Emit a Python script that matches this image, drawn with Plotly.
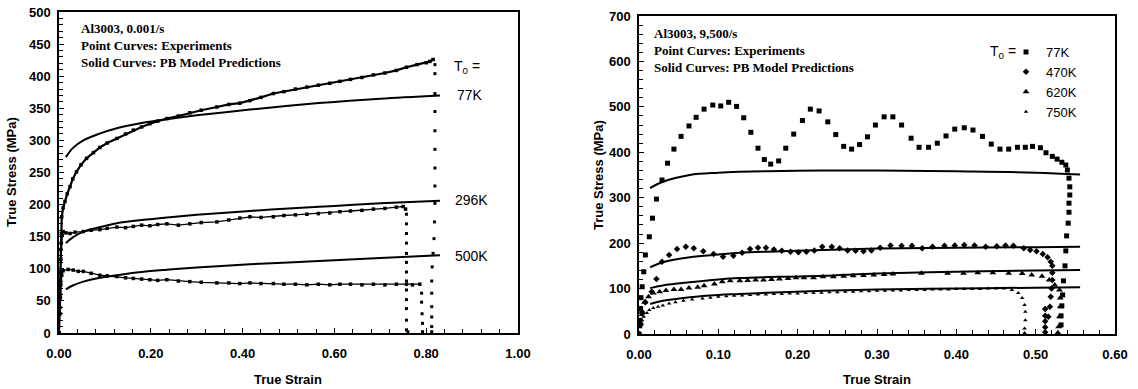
import plotly.graph_objects as go

# ---------------- Left panel: Al3003, 0.001/s ----------------
L_model_strain = [0.015, 0.03, 0.053, 0.09, 0.126, 0.18, 0.235, 0.3, 0.416, 0.5, 0.6, 0.7, 0.83]
L_model_77K = [274, 288, 300, 311, 319, 327, 333, 339, 348, 354, 360, 365, 370]
L_model_296K = [140, 149, 158, 165, 171, 176, 180, 184, 190, 194, 198, 202, 206]
L_model_500K = [68, 74, 80, 86, 90, 95, 98.5, 102, 107, 110, 113.5, 117, 121]

L_exp77_strain = [0.0, 0.001, 0.002, 0.003, 0.004, 0.005, 0.006, 0.009, 0.013, 0.018, 0.024, 0.03, 0.038,
                  0.048, 0.06, 0.075, 0.089, 0.105, 0.126, 0.145, 0.162, 0.18, 0.198, 0.215, 0.235, 0.26,
                  0.285, 0.31, 0.344, 0.37, 0.394, 0.416, 0.44, 0.467, 0.49, 0.515, 0.54, 0.565, 0.59,
                  0.612, 0.635, 0.66, 0.685, 0.71, 0.735, 0.757, 0.78, 0.80, 0.808, 0.815]
L_exp77_stress = [0, 30, 60, 95, 130, 155, 181, 195, 205, 217, 228, 240, 251,
                  262, 272, 281, 289, 296, 303, 310, 316, 321, 326, 330, 334, 338,
                  343, 347, 352, 356, 358, 362, 367, 373, 376, 380, 383, 386, 389,
                  392, 395, 398, 402, 405, 409, 414, 418, 421, 423, 426]
L_tail77_strain = [0.819, 0.819, 0.819, 0.819, 0.819, 0.819, 0.819, 0.819, 0.819, 0.818, 0.817, 0.815,
                   0.813, 0.812, 0.812, 0.812, 0.812, 0.812, 0.812]
L_tail77_stress = [418, 404, 373, 345, 315, 286, 257, 229, 202, 173, 147, 124, 103, 81, 62, 41, 25, 10, 2]

L_exp296_strain = [0.0, 0.002, 0.003, 0.004, 0.005, 0.007, 0.009, 0.015, 0.024, 0.035, 0.053, 0.07, 0.089,
                   0.105, 0.126, 0.145, 0.162, 0.18, 0.198, 0.215, 0.235, 0.26, 0.285, 0.31, 0.344, 0.37,
                   0.394, 0.416, 0.44, 0.467, 0.49, 0.515, 0.54, 0.565, 0.59, 0.612, 0.635, 0.66, 0.685,
                   0.71, 0.735, 0.75, 0.755]
L_exp296_stress = [0, 40, 80, 115, 140, 152, 158, 156, 155, 157, 158, 160, 161,
                   163, 165, 164, 166, 168, 167, 169, 170, 168, 170, 172, 173, 176,
                   179, 181, 180, 181, 183, 184, 185, 186, 187, 189, 190, 191, 193,
                   194, 196, 197, 193]
L_tail296_strain = [0.757, 0.757, 0.757, 0.757, 0.757, 0.757, 0.757, 0.757, 0.757, 0.757, 0.757, 0.757, 0.757, 0.76]
L_tail296_stress = [185, 170, 155, 140, 124, 110, 95, 81, 67, 52, 38, 20, 5, 2]

L_exp500_strain = [0.0, 0.002, 0.003, 0.004, 0.006, 0.009, 0.02, 0.031, 0.042, 0.053, 0.07, 0.089, 0.105,
                   0.126, 0.145, 0.162, 0.18, 0.198, 0.215, 0.235, 0.26, 0.285, 0.31, 0.344, 0.37, 0.394,
                   0.416, 0.44, 0.467, 0.49, 0.515, 0.54, 0.565, 0.59, 0.612, 0.635, 0.66, 0.685, 0.71,
                   0.735, 0.757, 0.77, 0.786]
L_exp500_stress = [0, 30, 55, 75, 90, 97, 99, 98, 96, 96, 93, 90, 89,
                   88, 86, 85, 84, 83, 82, 83, 81, 80, 79, 78, 78, 77,
                   78, 77, 77, 76, 76, 75, 76, 75, 76, 76, 75, 76, 75,
                   76, 76, 75, 76]
L_tail500_strain = [0.79, 0.79, 0.791, 0.792, 0.792]
L_tail500_stress = [62, 48, 30, 15, 2]

# ---------------- Right panel: Al3003, 9,500/s ----------------
R_model_strain = [0.014, 0.03, 0.064, 0.1, 0.127, 0.18, 0.232, 0.3, 0.4, 0.5, 0.556]
R_model_77K = [321, 335, 350, 355, 357, 359, 360, 360, 358, 355, 351]
R_model_470K = [147, 158, 169, 175, 179, 182, 185, 188, 190, 191, 192]
R_model_620K = [101, 107, 114, 120, 123, 126, 128, 133, 137, 140, 141]
R_model_750K = [66, 73, 81, 86, 88, 92, 95, 98, 100, 102, 103]

R_exp77_strain = [0.0, 0.001, 0.002, 0.0025, 0.004, 0.006, 0.008, 0.013, 0.017, 0.022, 0.029, 0.036, 0.044,
                  0.053, 0.063, 0.072, 0.082, 0.093, 0.103, 0.113, 0.123, 0.132, 0.141, 0.150, 0.158,
                  0.166, 0.176, 0.185, 0.195, 0.206, 0.216, 0.227, 0.238, 0.248, 0.258, 0.268, 0.278,
                  0.288, 0.298, 0.309, 0.320, 0.331, 0.343, 0.353, 0.365, 0.376, 0.387, 0.398, 0.410,
                  0.421, 0.433, 0.444, 0.455, 0.466, 0.477, 0.487, 0.496, 0.506, 0.513, 0.521, 0.527,
                  0.533, 0.538, 0.540, 0.542, 0.543, 0.543, 0.542, 0.542, 0.541, 0.539, 0.538, 0.537,
                  0.535, 0.534, 0.533, 0.532, 0.532]
R_exp77_stress = [0, 30, 55, 80, 104, 137, 174, 214, 255, 297, 339, 376, 407,
                  435, 458, 477, 495, 504, 502, 510, 501, 476, 444, 409, 384,
                  374, 381, 409, 440, 470, 495, 491, 467, 439, 413, 407, 417,
                  434, 460, 478, 478, 460, 431, 411, 411, 420, 436, 451, 454,
                  449, 435, 418, 407, 407, 411, 411, 413, 410, 399, 391, 385,
                  378, 372, 361, 343, 324, 306, 288, 268, 244, 216, 183, 150,
                  117, 86, 62, 40, 20, 5]

R_exp470_strain = [0.0, 0.002, 0.004, 0.008, 0.016, 0.022, 0.029, 0.038, 0.048, 0.059, 0.069, 0.081, 0.094,
                   0.106, 0.119, 0.130, 0.140, 0.150, 0.160, 0.170, 0.180, 0.191, 0.201, 0.211, 0.221,
                   0.231, 0.243, 0.253, 0.263, 0.273, 0.283, 0.293, 0.304, 0.317, 0.331, 0.344, 0.357,
                   0.370, 0.385, 0.398, 0.410, 0.423, 0.437, 0.451, 0.462, 0.472, 0.485, 0.493, 0.501,
                   0.509, 0.515, 0.519, 0.521, 0.521, 0.521, 0.520, 0.519, 0.518, 0.516, 0.512, 0.512,
                   0.512, 0.512, 0.512]
R_exp470_stress = [0, 20, 45, 70, 93, 121, 159, 174, 187, 192, 189, 182, 176,
                   170, 172, 179, 187, 190, 190, 186, 183, 181, 180, 181, 184,
                   192, 192, 189, 184, 183, 182, 184, 190, 195, 194, 194, 189,
                   192, 194, 195, 196, 195, 192, 193, 195, 194, 189, 185, 182,
                   176, 169, 159, 150, 135, 119, 100, 82, 60, 38, 55, 40,
                   28, 15, 4]

R_exp620_strain = [0.0, 0.002, 0.004, 0.007, 0.012, 0.018, 0.026, 0.034, 0.044, 0.053, 0.063, 0.074, 0.082,
                   0.095, 0.105, 0.115, 0.127, 0.137, 0.147, 0.157, 0.167, 0.177, 0.188, 0.198, 0.208,
                   0.22, 0.232, 0.245, 0.258, 0.27, 0.283, 0.296, 0.309, 0.32, 0.356, 0.389, 0.409,
                   0.427, 0.446, 0.466, 0.483, 0.495, 0.508, 0.517, 0.524, 0.53, 0.531, 0.531, 0.530,
                   0.529, 0.528]
R_exp620_stress = [0, 25, 50, 70, 82, 90, 93, 96, 98, 98, 101, 103, 106,
                   110, 115, 117, 117, 118, 119, 119, 120, 121, 122, 124, 124,
                   124, 126, 126, 127, 128, 129, 130, 131, 132, 134, 134, 134,
                   135, 135, 134, 133, 130, 127, 119, 108, 97, 79, 60, 38,
                   16, 3]

R_exp750_strain = [0.0, 0.002, 0.004, 0.006, 0.01, 0.013, 0.018, 0.024, 0.03, 0.038, 0.046, 0.056, 0.067,
                   0.08, 0.09, 0.1, 0.11, 0.12, 0.13, 0.14, 0.15, 0.16, 0.17, 0.18, 0.19, 0.2, 0.21,
                   0.22, 0.23, 0.24, 0.25, 0.26, 0.27, 0.28, 0.29, 0.3, 0.31, 0.32, 0.33, 0.34, 0.35,
                   0.36, 0.37, 0.38, 0.39, 0.40, 0.41, 0.42, 0.43, 0.44, 0.45, 0.46, 0.47, 0.478,
                   0.483, 0.486, 0.487, 0.487, 0.486, 0.486]
R_exp750_stress = [0, 15, 30, 38, 46, 53, 57, 60, 63, 67, 70, 73, 76,
                   78, 80, 82, 83, 84, 85, 86, 87, 87, 88, 88, 89, 89, 90,
                   90, 91, 92, 92, 93, 93, 94, 94, 95, 95, 96, 96, 97, 97,
                   97, 98, 98, 98, 99, 99, 99, 99, 100, 100, 100, 97, 90,
                   79, 64, 49, 30, 12, 2]

L_labels = ["77K", "296K", "500K"]
R_labels = ["77K", "470K", "620K", "750K"]
L_xticks = [0.0, 0.2, 0.4, 0.6, 0.8, 1.0]
R_xticks = [0.0, 0.1, 0.2, 0.3, 0.4, 0.5, 0.6]

BLK = "black"
fig = go.Figure()


def model(x, y, xa, ya):
    fig.add_trace(go.Scatter(x=x, y=y, mode="lines", line=dict(color=BLK, width=2, shape="spline"),
                             xaxis=xa, yaxis=ya, showlegend=False, hoverinfo="skip"))


def exp_pts(x, y, xa, ya, symbol, size, name=None, legend=False, lw=0):
    fig.add_trace(go.Scatter(x=x, y=y, mode="lines+markers" if lw else "markers",
                             line=dict(color=BLK, width=lw if lw else 1),
                             marker=dict(color=BLK, symbol=symbol, size=size, line=dict(width=0)),
                             xaxis=xa, yaxis=ya, name=name, showlegend=legend, hoverinfo="skip"))


# left panel
model(L_model_strain, L_model_77K, "x", "y")
model(L_model_strain, L_model_296K, "x", "y")
model(L_model_strain, L_model_500K, "x", "y")
exp_pts(L_exp77_strain, L_exp77_stress, "x", "y", "square", 3.5, lw=2.2)
exp_pts(L_tail77_strain, L_tail77_stress, "x", "y", "square", 3)
exp_pts(L_exp296_strain, L_exp296_stress, "x", "y", "square", 3.5, lw=1.3)
exp_pts(L_tail296_strain, L_tail296_stress, "x", "y", "square", 3)
exp_pts(L_exp500_strain, L_exp500_stress, "x", "y", "square", 3.5, lw=1.3)
exp_pts(L_tail500_strain, L_tail500_stress, "x", "y", "square", 3)

# right panel
model(R_model_strain, R_model_77K, "x2", "y2")
model(R_model_strain, R_model_470K, "x2", "y2")
model(R_model_strain, R_model_620K, "x2", "y2")
model(R_model_strain, R_model_750K, "x2", "y2")
exp_pts(R_exp77_strain, R_exp77_stress, "x2", "y2", "square", 5, R_labels[0], True)
exp_pts(R_exp470_strain, R_exp470_stress, "x2", "y2", "diamond", 5, R_labels[1], True)
exp_pts(R_exp620_strain, R_exp620_stress, "x2", "y2", "triangle-up", 6, R_labels[2], True)
exp_pts(R_exp750_strain, R_exp750_stress, "x2", "y2", "triangle-up", 4, R_labels[3], True)

W, H = 1138, 389


def px(x):
    return x / W


def py(y):
    return 1 - y / H


tickfont = dict(family="Liberation Sans, Arial", size=13, color=BLK, weight="bold")
axis_common = dict(showline=True, linecolor=BLK, linewidth=1.5, mirror=True, ticks="inside",
                   ticklen=5, tickwidth=1, tickcolor=BLK, showgrid=False, zeroline=False,
                   tickfont=tickfont, automargin=False)

fig.update_layout(
    width=W, height=H, margin=dict(l=0, r=0, t=0, b=0, autoexpand=False),
    paper_bgcolor="white", plot_bgcolor="white",
    xaxis=dict(domain=[px(59), px(518)], range=[0, 1], tickvals=L_xticks, tickformat=".2f",
               minor=dict(dtick=0.04, ticks="inside", ticklen=4, tickcolor=BLK),
               ticklabelstandoff=8, **axis_common),
    yaxis=dict(domain=[py(333), py(12)], range=[0, 500], dtick=50,
               minor=dict(dtick=10, ticks="inside", ticklen=4, tickcolor=BLK),
               ticklabelstandoff=4, **axis_common),
    xaxis2=dict(domain=[px(639), px(1115)], range=[0, 0.6], tickvals=R_xticks, tickformat=".2f",
                minor=dict(dtick=0.02, ticks="inside", ticklen=4, tickcolor=BLK),
                ticklabelstandoff=8, anchor="y2", **axis_common),
    yaxis2=dict(domain=[py(334), py(16)], range=[0, 700], dtick=100,
                minor=dict(dtick=20, ticks="inside", ticklen=4, tickcolor=BLK),
                ticklabelstandoff=4, anchor="x2", **axis_common),
    legend=dict(x=px(1006), y=py(37), xanchor="left", yanchor="top",
                bgcolor="rgba(0,0,0,0)", font=dict(family="Liberation Sans, Arial", size=13, color=BLK),
                itemwidth=30, tracegroupgap=0),
    hovermode=False,
)

serif = dict(family="Liberation Serif, Times New Roman", size=13, color=BLK, weight="bold")
sans = dict(family="Liberation Sans, Arial", size=14, color=BLK)
title_font = dict(family="Liberation Sans, Arial", size=13, color=BLK, weight="bold")

ann = [
    dict(text="Al3003, 0.001/s<br>Point Curves: Experiments<br>Solid Curves: PB Model Predictions",
         xref="paper", yref="paper", x=px(79), y=py(19), xanchor="left", yanchor="top",
         align="left", showarrow=False, font=serif),
    dict(text="Al3003, 9,500/s<br>Point Curves: Experiments<br>Solid Curves: PB Model Predictions",
         xref="paper", yref="paper", x=px(652), y=py(24), xanchor="left", yanchor="top",
         align="left", showarrow=False, font=serif),
    dict(text="T<sub>0</sub> =", xref="x", yref="y", x=0.856, y=414, xanchor="left", yanchor="middle",
         showarrow=False, font=sans),
    dict(text=L_labels[0], xref="x", yref="y", x=0.862, y=371, xanchor="left", yanchor="middle",
         showarrow=False, font=sans),
    dict(text=L_labels[1], xref="x", yref="y", x=0.858, y=207, xanchor="left", yanchor="middle",
         showarrow=False, font=sans),
    dict(text=L_labels[2], xref="x", yref="y", x=0.858, y=120, xanchor="left", yanchor="middle",
         showarrow=False, font=sans),
    dict(text="T<sub>0</sub> =", xref="x2", yref="y2", x=0.44, y=621, xanchor="left", yanchor="middle",
         showarrow=False, font=sans),
    dict(text="True Strain", xref="paper", yref="paper", x=px(288), y=py(379), xanchor="center",
         yanchor="middle", showarrow=False, font=title_font),
    dict(text="True Strain", xref="paper", yref="paper", x=px(877), y=py(379), xanchor="center",
         yanchor="middle", showarrow=False, font=title_font),
    dict(text="True Stress (MPa)", xref="paper", yref="paper", x=px(12), y=py(172), xanchor="center",
         yanchor="middle", textangle=-90, showarrow=False, font=title_font),
    dict(text="True Stress (MPa)", xref="paper", yref="paper", x=px(598), y=py(175), xanchor="center",
         yanchor="middle", textangle=-90, showarrow=False, font=title_font),
]
fig.update_layout(annotations=ann)

# remove the browser's default 8px body margin so the figure fills the window exactly
fig.write_html("out.html", config={"displayModeBar": False},
               post_script="document.body.style.margin='0';")
